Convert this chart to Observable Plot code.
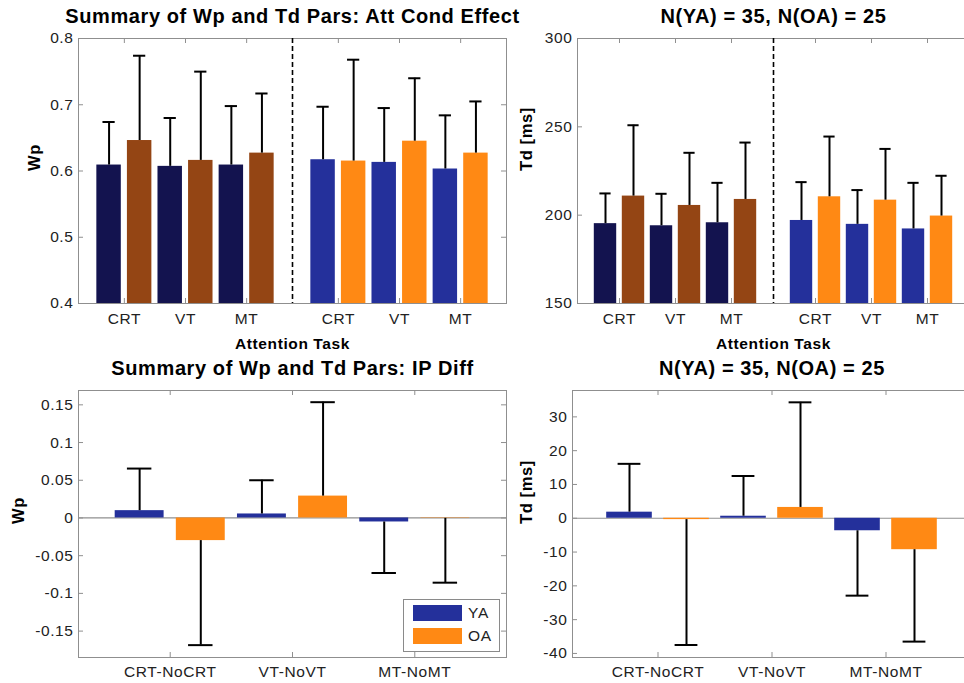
<!DOCTYPE html>
<html>
<head>
<meta charset="utf-8">
<script src="https://cdn.jsdelivr.net/npm/d3@7"></script>
<script src="https://cdn.jsdelivr.net/npm/@observablehq/plot@0.6"></script>
<style>
  html, body { margin: 0; padding: 0; background: #fff; }
  #fig { position: relative; width: 964px; height: 683px; overflow: hidden; background: #fff; font-family: "Liberation Sans", Arial, sans-serif; }
  #fig > svg { position: absolute; }
  .legend { position: absolute; left: 403px; top: 599px; width: 95px; height: 51px; border: 1px solid #8a8a8a; background: #fff; }
  .legend .sw { position: absolute; left: 9px; width: 49px; height: 16px; }
  .legend .lb { position: absolute; left: 64px; font-size: 15.5px; letter-spacing: 0.7px; color: #222; line-height: 16px; }
</style>
</head>
<body>
<div id="fig"></div>
<script>
// ---- Data ----
const taskLabels = ["CRT", "VT", "MT", "CRT", "VT", "MT"];
const wpYA     = [0.609, 0.607, 0.609, 0.617, 0.613, 0.603];
const wpYAErr  = [0.674, 0.680, 0.698, 0.697, 0.695, 0.684];
const wpOA     = [0.646, 0.616, 0.627, 0.615, 0.645, 0.627];
const wpOAErr  = [0.774, 0.750, 0.717, 0.768, 0.740, 0.705];
const tdYA     = [195.2, 194.0, 195.7, 197.0, 194.8, 192.2];
const tdYAErr  = [212.3, 212.1, 218.3, 218.7, 214.2, 218.3];
const tdOA     = [210.8, 205.5, 208.9, 210.4, 208.5, 199.5];
const tdOAErr  = [250.9, 235.3, 241.1, 244.5, 237.5, 222.3];

const diffLabels   = ["CRT-NoCRT", "VT-NoVT", "MT-NoMT"];
const wpDiffYA     = [0.0097, 0.0053, -0.0053];
const wpDiffYAErr  = [0.0655, 0.050, -0.073];
const wpDiffOA     = [-0.030, 0.029, -0.0005];
const wpDiffOAErr  = [-0.1686, 0.1535, -0.0858];
const tdDiffYA     = [1.8, 0.6, -3.7];
const tdDiffYAErr  = [16.1, 12.5, -22.9];
const tdDiffOA     = [-0.4, 3.2, -9.3];
const tdDiffOAErr  = [-37.5, 34.3, -36.5];

const wpTicks = [0.4, 0.5, 0.6, 0.7, 0.8];
const tdTicks = [150, 200, 250, 300];
const wpDiffTicks = [-0.15, -0.1, -0.05, 0, 0.05, 0.1, 0.15];
const tdDiffTicks = [-40, -30, -20, -10, 0, 10, 20, 30];

const groupNames = ["YA", "OA"];
const colorsBlock1 = ["#13134f", "#944514"];   // first block (dark)
const colorsBlock2 = ["#24309b", "#ff8914"];   // second block (bright)

// ---- Panel builder ----
function panel(o) {
  const fw = o.width - o.ml - o.mr;
  const fh = o.height - o.mt - o.mb;
  const rows = [];
  o.labels.forEach((lab, i) => {
    const p = o.pos[i];
    [[o.ya, o.yaErr], [o.oa, o.oaErr]].forEach(([v, e], s) => {
      rows.push({x: p + (s === 0 ? -0.25 : 0.25), v: v[i], e: e[i], fill: o.color(i, s)});
    });
  });
  const labMap = new Map(o.pos.map((p, i) => [p, o.labels[i]]));
  const base = o.base;
  const marks = [
    Plot.frame({stroke: "#8f8f8f"}),
    Plot.tickY(o.yTicks, {y: d => d, insetRight: fw - 5, stroke: "#8f8f8f"}),
    Plot.tickY(o.yTicks, {y: d => d, insetLeft: fw - 5, stroke: "#8f8f8f"}),
    Plot.tickX(o.pos, {x: d => d, insetBottom: fh - 5, stroke: "#8f8f8f"}),
    Plot.tickX(o.pos, {x: d => d, insetTop: fh - 5, stroke: "#8f8f8f"}),
  ];
  if (o.zero) marks.push(Plot.ruleY([0], {stroke: "#8f8f8f", strokeWidth: 1.2}));
  marks.push(
    Plot.rectY(rows, {x1: d => d.x - 0.2, x2: d => d.x + 0.2, y1: () => base, y2: "v", fill: "fill"}),
    Plot.ruleX(rows, {x: "x", y1: "v", y2: "e", stroke: "#000", strokeWidth: 2}),
    Plot.ruleY(rows, {y: "e", x1: d => d.x - 0.1, x2: d => d.x + 0.1, stroke: "#000", strokeWidth: 2})
  );
  if (o.dash != null) marks.push(Plot.ruleX([o.dash], {stroke: "#000", strokeWidth: 1.6, strokeDasharray: "5,3"}));
  marks.push(
    Plot.axisY(o.yTicks, {tickSize: 0, tickPadding: 5, fontSize: 15.5, tickFormat: d => String(d), label: null, color: "#222"}),
    Plot.axisX(o.pos, {tickSize: 0, tickPadding: o.xPad, fontSize: 15.5, tickFormat: d => labMap.get(d), label: null, color: "#222"}),
    Plot.text([o.title], {frameAnchor: "top", lineAnchor: "top", dy: -29.5, fontSize: 20, fontWeight: "bold", fill: "#000"}),
    Plot.text([o.ylabel], {frameAnchor: "left", rotate: -90, dx: o.ylabDx, fontSize: 16.5, fontWeight: "bold", fill: "#000"})
  );
  if (o.xlabel) marks.push(Plot.text([o.xlabel], {frameAnchor: "bottom", lineAnchor: "top", dy: 34, fontSize: 15.5, fontWeight: "bold", fill: "#000"}));
  const svg = Plot.plot({
    width: o.width, height: o.height,
    marginLeft: o.ml, marginRight: o.mr, marginTop: o.mt, marginBottom: o.mb,
    x: {domain: o.xDomain, axis: null},
    y: {domain: o.yDomain, axis: null},
    style: {fontFamily: '"Liberation Sans", Arial, sans-serif', letterSpacing: "0.6px", background: "transparent", overflow: "visible"},
    marks
  });
  svg.style.left = o.left + "px";
  svg.style.top = o.top + "px";
  return svg;
}

const topPos = taskLabels.map((_, i) => (i < 3 ? i + 1 : i + 1.5));
const diffPos = diffLabels.map((_, i) => i + 1);
const topColor = (i, s) => (i < 3 ? colorsBlock1[s] : colorsBlock2[s]);
const diffColor = (i, s) => colorsBlock2[s];

const fig = document.getElementById("fig");
fig.appendChild(panel({
  left: 0, top: 0, width: 530, height: 352, ml: 78, mr: 24, mt: 38, mb: 49,
  labels: taskLabels, pos: topPos, xDomain: [0.25, 7.25], yDomain: [0.4, 0.8], yTicks: wpTicks, base: 0.4,
  ya: wpYA, yaErr: wpYAErr, oa: wpOA, oaErr: wpOAErr, color: topColor, dash: 3.75, zero: false, xPad: 9,
  title: "Summary of Wp and Td Pars: Att Cond Effect", ylabel: "Wp", ylabDx: -44, xlabel: "Attention Task"
}));
fig.appendChild(panel({
  left: 482, top: 0, width: 500, height: 352, ml: 95, mr: 13, mt: 38, mb: 49,
  labels: taskLabels, pos: topPos, xDomain: [0.25, 7.25], yDomain: [150, 300], yTicks: tdTicks, base: 150,
  ya: tdYA, yaErr: tdYAErr, oa: tdOA, oaErr: tdOAErr, color: topColor, dash: 3.75, zero: false, xPad: 9,
  title: "N(YA) = 35, N(OA) = 25", ylabel: "Td [ms]", ylabDx: -51, xlabel: "Attention Task"
}));
fig.appendChild(panel({
  left: 0, top: 352, width: 530, height: 331, ml: 78, mr: 24, mt: 38, mb: 26,
  labels: diffLabels, pos: diffPos, xDomain: [0.25, 3.75], yDomain: [-0.185, 0.169], yTicks: wpDiffTicks, base: 0,
  ya: wpDiffYA, yaErr: wpDiffYAErr, oa: wpDiffOA, oaErr: wpDiffOAErr, color: diffColor, dash: null, zero: true, xPad: 8,
  title: "Summary of Wp and Td Pars: IP Diff", ylabel: "Wp", ylabDx: -60, xlabel: null
}));
fig.appendChild(panel({
  left: 482, top: 352, width: 500, height: 331, ml: 90, mr: 11, mt: 38, mb: 26,
  labels: diffLabels, pos: diffPos, xDomain: [0.25, 3.75], yDomain: [-41.2, 37.8], yTicks: tdDiffTicks, base: 0,
  ya: tdDiffYA, yaErr: tdDiffYAErr, oa: tdDiffOA, oaErr: tdDiffOAErr, color: diffColor, dash: null, zero: true, xPad: 8,
  title: "N(YA) = 35, N(OA) = 25", ylabel: "Td [ms]", ylabDx: -46, xlabel: null
}));

// Legend
const lg = document.createElement("div");
lg.className = "legend";
groupNames.forEach((g, k) => {
  const sw = document.createElement("div");
  sw.className = "sw";
  sw.style.top = (5 + k * 23) + "px";
  sw.style.background = colorsBlock2[k];
  lg.appendChild(sw);
  const lb = document.createElement("div");
  lb.className = "lb";
  lb.style.top = (5 + k * 23) + "px";
  lb.textContent = g;
  lg.appendChild(lb);
});
fig.appendChild(lg);
</script>
</body>
</html>
